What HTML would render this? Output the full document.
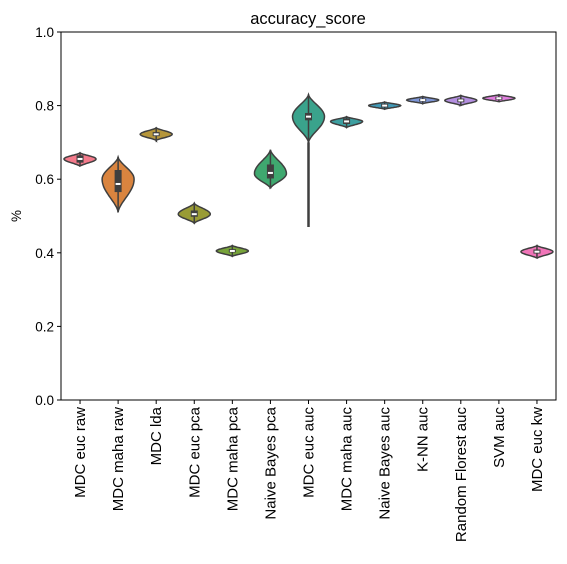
<!DOCTYPE html>
<html><head><meta charset="utf-8"><style>
body{margin:0;background:#fff;font-family:"Liberation Sans",sans-serif}
</style></head><body>
<svg id="chart" width="567" height="559" xmlns="http://www.w3.org/2000/svg" font-family="Liberation Sans, sans-serif">
<text x="308" y="24" font-size="16.5" text-anchor="middle">accuracy_score</text>
<text x="21" y="216" font-size="13.5" text-anchor="middle" transform="rotate(-90 21 216)">%</text>
<g id="marks"></g>
<rect x="61" y="32" width="495" height="368" fill="none" stroke="#000" stroke-width="1"/>
<g id="axes"></g>
</svg>
<script>
const categories=["MDC euc raw","MDC maha raw","MDC lda","MDC euc pca","MDC maha pca","Naive Bayes pca","MDC euc auc","MDC maha auc","Naive Bayes auc","K-NN auc","Random Florest auc","SVM auc","MDC euc kw"];
const lows=[0.635,0.51,0.705,0.48,0.39,0.575,0.70,0.74,0.79,0.805,0.80,0.81,0.385];
const highs=[0.672,0.66,0.74,0.535,0.42,0.68,0.83,0.77,0.81,0.825,0.828,0.83,0.42];
const peaks=[0.655,0.60,0.722,0.505,0.405,0.615,0.77,0.757,0.80,0.815,0.814,0.82,0.403];
const medians=[0.655,0.587,0.722,0.505,0.405,0.617,0.77,0.757,0.80,0.815,0.814,0.82,0.403];
const q1s=[0.645,0.565,0.717,0.498,0.401,0.602,0.76,0.75,0.795,0.811,0.809,0.816,0.398];
const q3s=[0.665,0.625,0.728,0.515,0.41,0.64,0.78,0.765,0.805,0.819,0.819,0.824,0.409];
const tailLows=[null,null,null,null,null,null,0.47,null,null,null,null,null,null];
const yTicks=[0,0.2,0.4,0.6,0.8,1.0];
const colors=["#f47a8b","#d9843f","#b5963b","#999b35","#77a33a","#3fa86f","#3aa38c","#3d9fa0","#4199b6","#7d95d6","#b48fe0","#e280e0","#f075b8"];
const L=61,R=556,T=32,B=400,W=16;
const y=v=>B-(B-T)*v;
const bw=(R-L)/categories.length;
const x=i=>L+bw*(i+0.5);
const NS="http://www.w3.org/2000/svg";
const marks=document.getElementById('marks'),axes=document.getElementById('axes');
function mk(t,a,p){const e=document.createElementNS(NS,t);for(const k in a)e.setAttribute(k,a[k]);p.appendChild(e);return e;}
categories.forEach((c,i)=>{
  const cx=x(i),lo=lows[i],hi=highs[i],pk=peaks[i];
  const N=30;
  const top=[];
  for(let k=0;k<=N;k++){
    const v=lo+(hi-lo)*k/N;let w;
    if(v<=pk){const t=(v-lo)/(pk-lo);w=Math.sin(t*Math.PI/2)**1.6;}else{const t=(hi-v)/(hi-pk);w=Math.sin(t*Math.PI/2)**1.6;}
    top.push([cx+W*w,y(v)]);
  }
  let d="M"+cx+","+y(lo);
  top.forEach(p=>d+=" L"+p[0].toFixed(1)+","+p[1].toFixed(1));
  for(let k=top.length-1;k>=0;k--)d+=" L"+(2*cx-top[k][0]).toFixed(1)+","+top[k][1].toFixed(1);
  d+="Z";
  const g=mk('g',{},marks);
  
  
  if(tailLows[i]!==null){const tl=mk('line',{x1:cx,x2:cx,y1:y(tailLows[i]),y2:y(lo),stroke:"#3f3f3f","stroke-width":2.5},g);
    }
  const p=mk('path',{d:d,fill:colors[i],stroke:"#3f3f3f","stroke-width":1.5},g);
  
  const wl=mk('line',{x1:cx,x2:cx,y1:y(lo),y2:y(hi),stroke:"#3f3f3f","stroke-width":1.5},g);
  
  const bx=mk('rect',{x:cx-3.5,y:y(q3s[i]),width:7,height:Math.max(3,y(q1s[i])-y(q3s[i])),fill:"#3f3f3f"},g);
  
  const md=mk('rect',{x:cx-2.5,y:y(medians[i])-1,width:5,height:2,fill:"#fff"},g);
  
  const tk=mk('line',{x1:cx,x2:cx,y1:B,y2:B+4,stroke:"#000"},axes);
  
  const tx=mk('text',{x:0,y:0,"font-size":15,"text-anchor":"end",transform:`translate(${cx+5},${B+7}) rotate(-90)`},axes);
  tx.textContent=c;
  
});
yTicks.forEach(v=>{
  const tk=mk('line',{x1:L-4,x2:L,y1:y(v),y2:y(v),stroke:"#000"},axes);
  
  const tx=mk('text',{x:L-7,y:y(v)+5,"font-size":13.5,"text-anchor":"end"},axes);
  tx.textContent=v.toFixed(1);
  
});
</script>
</body></html>
